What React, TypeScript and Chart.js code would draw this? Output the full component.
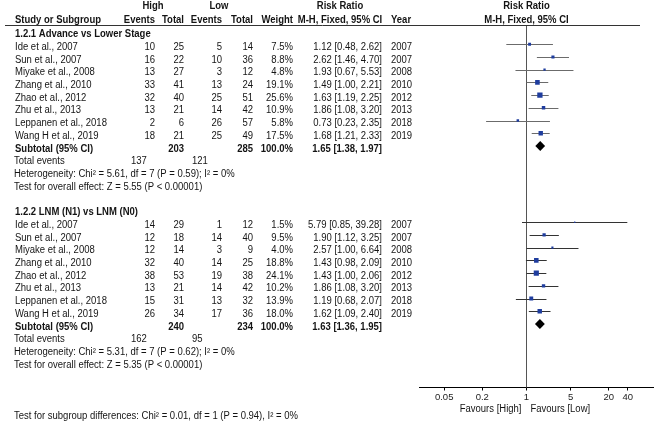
import React, { useEffect, useRef } from "react";
import { Chart, registerables } from "chart.js";

Chart.register(...registerables);

// ---------------- data ----------------
const studies = [
  "Ide et al., 2007",
  "Sun et al., 2007",
  "Miyake et al., 2008",
  "Zhang et al., 2010",
  "Zhao et al., 2012",
  "Zhu et al., 2013",
  "Leppanen et al., 2018",
  "Wang H et al., 2019",
];
const years = [2007, 2007, 2008, 2010, 2012, 2013, 2018, 2019];

// 1.2.1 Advance vs Lower Stage
const g1HighEvents = [10, 16, 13, 33, 32, 13, 2, 18];
const g1HighTotal = [25, 22, 27, 41, 40, 21, 6, 21];
const g1LowEvents = [5, 10, 3, 13, 25, 14, 26, 25];
const g1LowTotal = [14, 36, 12, 24, 51, 42, 57, 49];
const g1Weight = [7.5, 8.8, 4.8, 19.1, 25.6, 10.9, 5.8, 17.5];
const g1RR = [1.12, 2.62, 1.93, 1.49, 1.63, 1.86, 0.73, 1.68];
const g1Lo = [0.48, 1.46, 0.67, 1.0, 1.19, 1.08, 0.23, 1.21];
const g1Hi = [2.62, 4.7, 5.53, 2.21, 2.25, 3.2, 2.35, 2.33];
const g1Sub = { rr: 1.65, lo: 1.38, hi: 1.97, highTotal: 203, lowTotal: 285, highEvents: 137, lowEvents: 121 };

// 1.2.2 LNM (N1) vs LNM (N0)
const g2HighEvents = [14, 12, 12, 32, 38, 13, 15, 26];
const g2HighTotal = [29, 18, 14, 40, 53, 21, 31, 34];
const g2LowEvents = [1, 14, 3, 14, 19, 14, 13, 17];
const g2LowTotal = [12, 40, 9, 25, 38, 42, 32, 36];
const g2Weight = [1.5, 9.5, 4.0, 18.8, 24.1, 10.2, 13.9, 18.0];
const g2RR = [5.79, 1.9, 2.57, 1.43, 1.43, 1.86, 1.19, 1.62];
const g2Lo = [0.85, 1.12, 1.0, 0.98, 1.0, 1.08, 0.68, 1.09];
const g2Hi = [39.28, 3.25, 6.64, 2.09, 2.06, 3.2, 2.07, 2.4];
const g2Sub = { rr: 1.63, lo: 1.36, hi: 1.95, highTotal: 240, lowTotal: 234, highEvents: 162, lowEvents: 95 };

const groupTitles = ["1.2.1 Advance vs Lower Stage", "1.2.2 LNM (N1) vs LNM (N0)"];
const heterogeneity = [
  "Heterogeneity: Chi\u00b2 = 5.61, df = 7 (P = 0.59); I\u00b2 = 0%",
  "Heterogeneity: Chi\u00b2 = 5.31, df = 7 (P = 0.62); I\u00b2 = 0%",
];
const overallEffect = [
  "Test for overall effect: Z = 5.55 (P < 0.00001)",
  "Test for overall effect: Z = 5.35 (P < 0.00001)",
];
const subgroupTest = "Test for subgroup differences: Chi\u00b2 = 0.01, df = 1 (P = 0.94), I\u00b2 = 0%";

const tickValues = [0.05, 0.2, 1, 5, 20, 40];
const tickLabels = ["0.05", "0.2", "1", "5", "20", "40"];
const favoursLeft = "Favours [High]";
const favoursRight = "Favours [Low]";

// ---------------- structure ----------------
const groups = [
  { base: 2, title: groupTitles[0], he: g1HighEvents, ht: g1HighTotal, le: g1LowEvents, lt: g1LowTotal, w: g1Weight, rr: g1RR, lo: g1Lo, hi: g1Hi, sub: g1Sub, het: heterogeneity[0], test: overallEffect[0], ciColor: "#6b6b6b" },
  { base: 16, title: groupTitles[1], he: g2HighEvents, ht: g2HighTotal, le: g2LowEvents, lt: g2LowTotal, w: g2Weight, rr: g2RR, lo: g2Lo, hi: g2Hi, sub: g2Sub, het: heterogeneity[1], test: overallEffect[1], ciColor: "#333333" },
];

const FONT = '"Liberation Sans", Arial, sans-serif';
const TEXT = "#141414";
const COL = { name: 15, hiEv: 155, hiTot: 184, loEv: 222, loTot: 253, weight: 293, rr: 382, year: 391, teHi: 131, teLo: 192 };

const fmt = (v: number) => v.toFixed(2);
const ciText = (r: number, l: number, h: number) => `${fmt(r)} [${fmt(l)}, ${fmt(h)}]`;

function drawText(ctx: CanvasRenderingContext2D, s: string, x: number, y: number, align: CanvasTextAlign = "left", bold = false) {
  ctx.save();
  ctx.font = `${bold ? "bold " : ""}10px ${FONT}`;
  ctx.fillStyle = TEXT;
  ctx.textAlign = align;
  ctx.textBaseline = "alphabetic";
  ctx.translate(x, y);
  ctx.scale(0.95, 1);
  ctx.fillText(s, 0, 0);
  ctx.restore();
}

const forestPlugin = {
  id: "forest",
  beforeDatasetsDraw(chart: any) {
    const { ctx, chartArea, scales } = chart;
    const x = scales.x;
    const y = scales.y;
    ctx.save();
    ctx.lineWidth = 1;
    const x1 = Math.round(x.getPixelForValue(1)) + 0.5;
    ctx.strokeStyle = "#555";
    ctx.beginPath();
    ctx.moveTo(x1, chartArea.top);
    ctx.lineTo(x1, chartArea.bottom);
    ctx.stroke();
    groups.forEach((g) => {
      ctx.strokeStyle = g.ciColor;
      g.rr.forEach((_, i) => {
        const py = Math.round(y.getPixelForValue(g.base + 1 + i)) + 0.5;
        ctx.beginPath();
        ctx.moveTo(x.getPixelForValue(g.lo[i]), py);
        ctx.lineTo(x.getPixelForValue(g.hi[i]), py);
        ctx.stroke();
      });
      const cy = y.getPixelForValue(g.base + 9);
      ctx.fillStyle = "#000";
      ctx.beginPath();
      ctx.moveTo(x.getPixelForValue(g.sub.lo), cy);
      ctx.lineTo(x.getPixelForValue(g.sub.rr), cy - 5);
      ctx.lineTo(x.getPixelForValue(g.sub.hi), cy);
      ctx.lineTo(x.getPixelForValue(g.sub.rr), cy + 5);
      ctx.closePath();
      ctx.fill();
    });
    ctx.restore();
  },
  afterDraw(chart: any) {
    const { ctx, chartArea, scales } = chart;
    const x = scales.x;
    const y = scales.y;
    const top = chartArea.top;
    const x1 = x.getPixelForValue(1);

    // headers
    const h1 = top - 16;
    const h2 = top - 2;
    drawText(ctx, "High", 153, h1, "center", true);
    drawText(ctx, "Low", 219, h1, "center", true);
    drawText(ctx, "Risk Ratio", 340, h1, "center", true);
    drawText(ctx, "Risk Ratio", x1, h1, "center", true);
    drawText(ctx, "Study or Subgroup", COL.name, h2, "left", true);
    drawText(ctx, "Events", COL.hiEv, h2, "right", true);
    drawText(ctx, "Total", COL.hiTot, h2, "right", true);
    drawText(ctx, "Events", COL.loEv, h2, "right", true);
    drawText(ctx, "Total", COL.loTot, h2, "right", true);
    drawText(ctx, "Weight", COL.weight, h2, "right", true);
    drawText(ctx, "M-H, Fixed, 95% CI", 340, h2, "center", true);
    drawText(ctx, "Year", COL.year, h2, "left", true);
    drawText(ctx, "M-H, Fixed, 95% CI", x1, h2, "center", true);

    ctx.save();
    ctx.strokeStyle = "#333";
    ctx.lineWidth = 1;
    ctx.beginPath();
    const uy = Math.round(top) + 0.5;
    ctx.moveTo(5, uy);
    ctx.lineTo(640, uy);
    ctx.stroke();
    ctx.restore();

    const base = (r: number) => y.getPixelForValue(r) + 5.6;

    groups.forEach((g) => {
      drawText(ctx, g.title, COL.name, base(g.base), "left", true);
      studies.forEach((s, i) => {
        const by = base(g.base + 1 + i);
        drawText(ctx, s, COL.name, by);
        drawText(ctx, String(g.he[i]), COL.hiEv, by, "right");
        drawText(ctx, String(g.ht[i]), COL.hiTot, by, "right");
        drawText(ctx, String(g.le[i]), COL.loEv, by, "right");
        drawText(ctx, String(g.lt[i]), COL.loTot, by, "right");
        drawText(ctx, g.w[i].toFixed(1) + "%", COL.weight, by, "right");
        drawText(ctx, ciText(g.rr[i], g.lo[i], g.hi[i]), COL.rr, by, "right");
        drawText(ctx, String(years[i]), COL.year, by, "left");
      });
      const sy = base(g.base + 9);
      drawText(ctx, "Subtotal (95% CI)", COL.name, sy, "left", true);
      drawText(ctx, String(g.sub.highTotal), COL.hiTot, sy, "right", true);
      drawText(ctx, String(g.sub.lowTotal), COL.loTot, sy, "right", true);
      drawText(ctx, "100.0%", COL.weight, sy, "right", true);
      drawText(ctx, ciText(g.sub.rr, g.sub.lo, g.sub.hi), COL.rr, sy, "right", true);
      const ty = base(g.base + 10);
      drawText(ctx, "Total events", COL.name - 1, ty);
      drawText(ctx, String(g.sub.highEvents), COL.teHi, ty);
      drawText(ctx, String(g.sub.lowEvents), COL.teLo, ty);
      drawText(ctx, g.het, COL.name - 1, base(g.base + 11));
      drawText(ctx, g.test, COL.name - 1, base(g.base + 12));
    });

    const axisY = chartArea.bottom;
    drawText(ctx, favoursLeft, x1 - 5, axisY + 24, "right");
    drawText(ctx, favoursRight, x1 + 4, axisY + 24, "left");
    drawText(ctx, subgroupTest, 14, axisY + 31, "left");
  },
};

export default function App() {
  const ref = useRef<HTMLCanvasElement>(null);
  useEffect(() => {
    const canvas = ref.current;
    if (!canvas) return;
    const toPoints = (g: any) => g.rr.map((v: number, i: number) => ({ x: v, y: g.base + 1 + i, w: g.w[i] }));
    const chart = new Chart(canvas, {
      type: "scatter",
      data: {
        datasets: groups.map((g) => ({
          data: toPoints(g),
          backgroundColor: "#1f3d9e",
          borderWidth: 0,
          pointStyle: "rect",
          pointRadius: (c: any) => (Math.sqrt(c.raw ? c.raw.w : 1) * 1.05) / Math.SQRT2,
        })),
      } as any,
      options: {
        animation: false,
        responsive: false,
        devicePixelRatio: 1,
        layout: { padding: { left: 419, right: 18, top: 25.2, bottom: 18.5 } },
        plugins: { legend: { display: false }, tooltip: { enabled: false } },
        events: [],
        scales: {
          x: {
            type: "logarithmic",
            min: 0.02,
            max: 100,
            position: "bottom",
            afterBuildTicks: (s: any) => {
              s.ticks = tickValues.map((v) => ({ value: v }));
            },
            afterFit: (s: any) => {
              s.height = 20;
            },
            grid: { display: true, drawOnChartArea: false, drawTicks: true, tickLength: 3, color: "#000", lineWidth: 1 },
            border: { display: true, color: "#000", width: 1 },
            ticks: {
              autoSkip: false,
              maxRotation: 0,
              padding: 1,
              color: "#222",
              font: { family: FONT, size: 9.5 },
              callback: (_v: any, i: number) => tickLabels[i],
            },
          },
          y: { type: "linear", display: false, min: 1.5, max: 30, reverse: true },
        },
      } as any,
      plugins: [forestPlugin],
    });
    return () => chart.destroy();
  }, []);
  return (
    <div style={{ position: "absolute", left: 0, top: 0, width: 671, height: 426, background: "#fff" }}>
      <canvas ref={ref} width={671} height={426} style={{ display: "block" }} />
    </div>
  );
}
